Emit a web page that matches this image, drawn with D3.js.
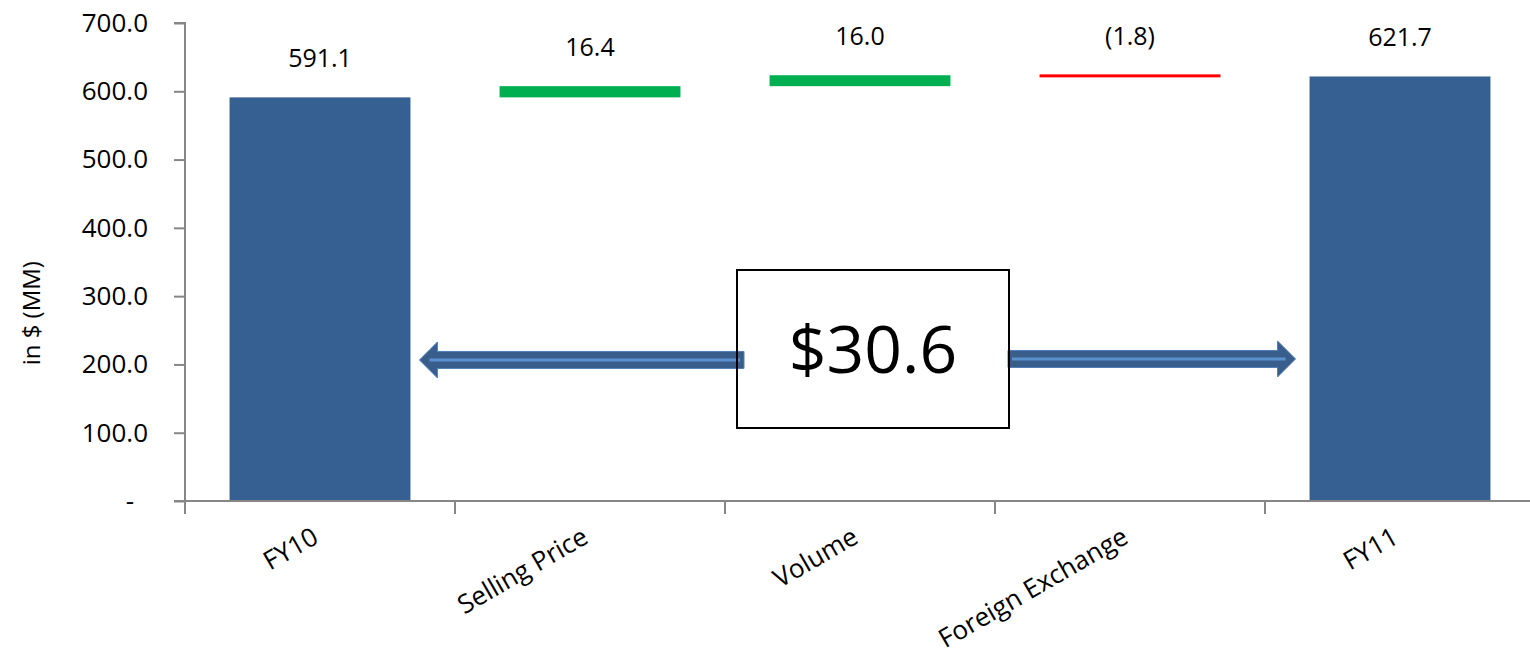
<!DOCTYPE html>
<html>
<head>
<meta charset="utf-8">
<script src="https://cdn.jsdelivr.net/npm/d3@7"></script>
<style>
  html, body { margin: 0; padding: 0; background: #fff; }
  svg text { font-family: "Open Sans", "Noto Sans", sans-serif; fill: #000; }
</style>
</head>
<body>
<svg id="chart" width="1530" height="661"></svg>
<script>
// ---- data ----
const categories = ["FY10", "Selling Price", "Volume", "Foreign Exchange", "FY11"];
const kinds      = ["total", "delta", "delta", "delta", "total"];
const values     = [591.1, 16.4, 16.0, -1.8, 621.7];
const valueLabels = ["591.1", "16.4", "16.0", "(1.8)", "621.7"];
const yTicks     = [0, 100, 200, 300, 400, 500, 600, 700];
const yTickLabels = ["-", "100.0", "200.0", "300.0", "400.0", "500.0", "600.0", "700.0"];
const changeTotal = 30.6;
const changeLabel = "$30.6";
const arrowLevel = 208;

// ---- layout ----
const svg = d3.select("#chart");
const plot = { left: 185, right: 1535, top: 23, bottom: 501 };

const x = d3.scaleBand().domain(categories).range([plot.left, plot.right]).padding(0);
const y = d3.scaleLinear().domain([0, 700]).range([plot.bottom, plot.top]);
const barW = x.bandwidth() * 0.67;

// compute waterfall segments
let running = 0;
const segs = categories.map((c, i) => {
  let lo, hi;
  if (kinds[i] === "total") { lo = 0; hi = values[i]; running = values[i]; }
  else { const start = running; running += values[i]; lo = Math.min(start, running); hi = Math.max(start, running); }
  return { c, lo, hi, v: values[i], kind: kinds[i], label: valueLabels[i] };
});

const colorOf = d => d.kind === "total" ? "#376092" : (d.v >= 0 ? "#00b050" : "#ff0000");

// ---- bars ----
svg.append("g").selectAll("rect").data(segs).join("rect")
  .attr("x", d => x(d.c) + (x.bandwidth() - barW) / 2)
  .attr("width", barW)
  .attr("y", d => {
    const h = y(d.lo) - y(d.hi);
    return h < 3 ? (y(d.lo) + y(d.hi)) / 2 - 1.5 : y(d.hi);
  })
  .attr("height", d => Math.max(3, y(d.lo) - y(d.hi)))
  .attr("fill", colorOf);

// ---- value labels ----
svg.append("g").selectAll("text").data(segs).join("text")
  .attr("x", d => x(d.c) + x.bandwidth() / 2)
  .attr("y", d => y(d.hi) - 30)
  .attr("text-anchor", "middle")
  .attr("font-size", 25)
  .text(d => d.label);

// ---- y axis ----
const yAxis = d3.axisLeft(y).tickValues(yTicks)
  .tickFormat((d, i) => yTickLabels[i]).tickSize(11).tickPadding(26);
const gy = svg.append("g").attr("transform", `translate(${plot.left},0)`).call(yAxis);
gy.select(".domain").attr("stroke", "#868686").attr("stroke-width", 2)
  .attr("d", `M-11,${y(700)}H0V${plot.bottom}`);
gy.selectAll(".tick line").attr("stroke", "#868686").attr("stroke-width", 2);
gy.selectAll(".tick text").attr("font-size", 26).attr("font-family", '"Open Sans", sans-serif').attr("fill", "#000")
  .attr("dx", d => d === 0 ? -14 : 0);

// ---- x axis ----
const gx = svg.append("g").attr("transform", `translate(0,${plot.bottom})`);
gx.append("line").attr("x1", plot.left - 11).attr("x2", 1530)
  .attr("stroke", "#868686").attr("stroke-width", 2);
const bounds = categories.map(c => x(c));
gx.selectAll("line.tk").data(bounds).join("line").attr("class", "tk")
  .attr("x1", d => d).attr("x2", d => d).attr("y1", 0).attr("y2", 13)
  .attr("stroke", "#868686").attr("stroke-width", 2);
gx.selectAll("text").data(categories).join("text")
  .attr("transform", c => `translate(${x(c) + x.bandwidth() / 2},${41}) rotate(-30)`)
  .attr("text-anchor", "end")
  .attr("font-size", 26)
  .text(c => c);

// y axis title
svg.append("text")
  .attr("transform", `translate(40,${y(275)}) rotate(-90)`)
  .attr("text-anchor", "middle")
  .attr("font-size", 24)
  .text("in $ (MM)");

// ---- annotation: box + arrows ----
const boxX0 = 737, boxX1 = 1009;
const boxY0 = 270, boxY1 = 428;
svg.append("rect").attr("x", boxX0).attr("y", boxY0)
  .attr("width", boxX1 - boxX0).attr("height", boxY1 - boxY0)
  .attr("fill", "#fff");

function arrow(xFrom, xTip, yc) {
  const dir = Math.sign(xTip - xFrom);
  const headLen = 18, shaftHalf = 8.5, headHalf = 18;
  const xBase = xTip - dir * headLen;
  const pts = [
    [xFrom, yc - shaftHalf], [xBase, yc - shaftHalf], [xBase, yc - headHalf],
    [xTip, yc], [xBase, yc + headHalf], [xBase, yc + shaftHalf], [xFrom, yc + shaftHalf]
  ];
  svg.append("path").attr("d", d3.line()(pts) + "Z")
    .attr("fill", "#395e8c").attr("stroke", "#4f7fb8").attr("stroke-width", 1);
  svg.append("line")
    .attr("x1", xFrom + dir * 4).attr("x2", xBase + dir * 8)
    .attr("y1", yc).attr("y2", yc)
    .attr("stroke", "#5a8fd0").attr("stroke-width", 3);
}
const yArrow = y(arrowLevel);
arrow(744, x("FY10") + (x.bandwidth() + barW) / 2 + 9, yArrow + 1);
arrow(1008, x("FY11") + (x.bandwidth() - barW) / 2 - 14, yArrow);

svg.append("rect").attr("x", boxX0).attr("y", boxY0)
  .attr("width", boxX1 - boxX0).attr("height", boxY1 - boxY0)
  .attr("fill", "none").attr("stroke", "#000").attr("stroke-width", 2);
svg.append("text")
  .attr("x", (boxX0 + boxX1) / 2)
  .attr("y", 373)
  .attr("text-anchor", "middle")
  .attr("font-size", 66)
  .text(changeLabel);
</script>
</body>
</html>
